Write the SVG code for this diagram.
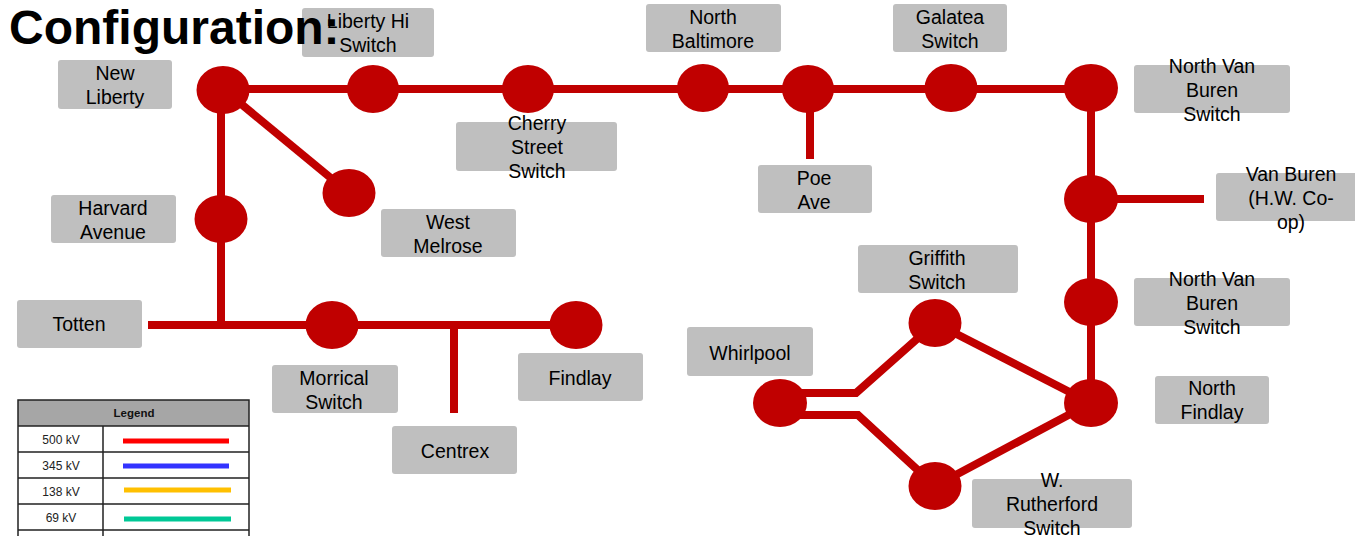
<svg xmlns="http://www.w3.org/2000/svg" width="1355" height="536" viewBox="0 0 1355 536">
<style>
.bg{fill:#fff}
.box{fill:#BFBFBF}
.lbl{font-family:"Liberation Sans",Arial,sans-serif;font-size:19.5px;fill:#000;text-anchor:middle}
.node{fill:#C00000}
.conn{fill:none;stroke:#C00000;stroke-width:8;stroke-linecap:butt;stroke-linejoin:miter}
.title{font-family:"Liberation Sans",Arial,sans-serif;font-size:48px;font-weight:bold;fill:#000}
.lg{font-family:"Liberation Sans",Arial,sans-serif;font-size:12px;fill:#222;text-anchor:middle}
.lgh{font-family:"Liberation Sans",Arial,sans-serif;font-size:11.5px;font-weight:bold;fill:#111;text-anchor:middle}
.grid{fill:none;stroke:#222;stroke-width:1.5}
.kv{stroke-width:5;fill:none}
</style>
<rect class="bg" x="0" y="0" width="1355" height="536"/>

<g id="connectors">
<path class="conn" d="M223 89 H1091"/>
<path class="conn" d="M221 89 V325"/>
<path class="conn" d="M223 89 L349 193"/>
<path class="conn" d="M148 325 H576"/>
<path class="conn" d="M454 325 V413"/>
<path class="conn" d="M810 89 V159"/>
<path class="conn" d="M1091 88 V403"/>
<path class="conn" d="M1091 199 H1204"/>
<path class="conn" d="M935 323 L1091 403"/>
<path class="conn" d="M935 486 L1091 403"/>
<path class="conn" d="M780 393 H856 L935 323"/>
<path class="conn" d="M780 415 H858 L935 486"/>
</g>

<g id="new-liberty">
<rect class="box" x="58" y="60" width="114" height="49" rx="3"/>
<text class="lbl" x="115" y="80">New</text>
<text class="lbl" x="115" y="104">Liberty</text>
<ellipse class="node" cx="223" cy="90" rx="26.5" ry="24"/>
</g>

<g id="liberty-hi-switch">
<rect class="box" x="302" y="8" width="132" height="49" rx="3"/>
<text class="lbl" x="368" y="28">Liberty Hi</text>
<text class="lbl" x="368" y="52">Switch</text>
<ellipse class="node" cx="373" cy="89" rx="26" ry="24"/>
</g>

<g id="cherry-street-switch">
<rect class="box" x="456" y="122" width="161" height="49" rx="3"/>
<ellipse class="node" cx="528" cy="89" rx="26" ry="24"/>
<text class="lbl" x="537" y="130">Cherry</text>
<text class="lbl" x="537" y="154">Street</text>
<text class="lbl" x="537" y="178">Switch</text>
</g>

<g id="north-baltimore">
<rect class="box" x="646" y="4" width="135" height="48" rx="3"/>
<text class="lbl" x="713" y="24">North</text>
<text class="lbl" x="713" y="48">Baltimore</text>
<ellipse class="node" cx="703" cy="88" rx="26" ry="24"/>
</g>

<g id="poe-ave">
<rect class="box" x="758" y="165" width="114" height="48" rx="3"/>
<text class="lbl" x="814" y="185">Poe</text>
<text class="lbl" x="814" y="209">Ave</text>
<ellipse class="node" cx="808" cy="89" rx="26" ry="24"/>
</g>

<g id="galatea-switch">
<rect class="box" x="893" y="4" width="114" height="48" rx="3"/>
<text class="lbl" x="950" y="24">Galatea</text>
<text class="lbl" x="950" y="48">Switch</text>
<ellipse class="node" cx="951" cy="88" rx="26.5" ry="24"/>
</g>

<g id="north-van-buren-switch-1">
<rect class="box" x="1134" y="65" width="156" height="48" rx="3"/>
<text class="lbl" x="1212" y="73">North Van</text>
<text class="lbl" x="1212" y="97">Buren</text>
<text class="lbl" x="1212" y="121">Switch</text>
<ellipse class="node" cx="1091" cy="88" rx="27" ry="24"/>
</g>

<g id="van-buren-hw-coop">
<rect class="box" x="1216" y="173" width="145" height="48" rx="3"/>
<text class="lbl" x="1291" y="181">Van Buren</text>
<text class="lbl" x="1291" y="205">(H.W. Co-</text>
<text class="lbl" x="1291" y="229">op)</text>
<ellipse class="node" cx="1091" cy="199" rx="27" ry="24"/>
</g>

<g id="north-van-buren-switch-2">
<rect class="box" x="1134" y="278" width="156" height="48" rx="3"/>
<text class="lbl" x="1212" y="286">North Van</text>
<text class="lbl" x="1212" y="310">Buren</text>
<text class="lbl" x="1212" y="334">Switch</text>
<ellipse class="node" cx="1091" cy="302" rx="27" ry="24"/>
</g>

<g id="north-findlay">
<rect class="box" x="1155" y="376" width="114" height="48" rx="3"/>
<text class="lbl" x="1212" y="395">North</text>
<text class="lbl" x="1212" y="419">Findlay</text>
<ellipse class="node" cx="1091" cy="403" rx="27" ry="24"/>
</g>

<g id="griffith-switch">
<rect class="box" x="858" y="245" width="160" height="48" rx="3"/>
<text class="lbl" x="937" y="265">Griffith</text>
<text class="lbl" x="937" y="289">Switch</text>
<ellipse class="node" cx="935" cy="323" rx="26.5" ry="24"/>
</g>

<g id="w-rutherford-switch">
<rect class="box" x="972" y="479" width="160" height="49" rx="3"/>
<text class="lbl" x="1052" y="487">W.</text>
<text class="lbl" x="1052" y="511">Rutherford</text>
<text class="lbl" x="1052" y="535">Switch</text>
<ellipse class="node" cx="935" cy="486" rx="26.5" ry="24"/>
</g>

<g id="whirlpool">
<rect class="box" x="687" y="327" width="126" height="49" rx="3"/>
<text class="lbl" x="750" y="360">Whirlpool</text>
<ellipse class="node" cx="780" cy="403" rx="27" ry="24"/>
</g>

<g id="west-melrose">
<rect class="box" x="381" y="209" width="135" height="48" rx="3"/>
<text class="lbl" x="448" y="229">West</text>
<text class="lbl" x="448" y="253">Melrose</text>
<ellipse class="node" cx="349" cy="193" rx="26.5" ry="24"/>
</g>

<g id="harvard-avenue">
<rect class="box" x="51" y="195" width="125" height="48" rx="3"/>
<text class="lbl" x="113" y="215">Harvard</text>
<text class="lbl" x="113" y="239">Avenue</text>
<ellipse class="node" cx="221" cy="219" rx="26.5" ry="24"/>
</g>

<g id="totten">
<rect class="box" x="17" y="300" width="125" height="48" rx="3"/>
<text class="lbl" x="79" y="331">Totten</text>
</g>

<g id="morrical-switch">
<rect class="box" x="272" y="365" width="126" height="48" rx="3"/>
<text class="lbl" x="334" y="385">Morrical</text>
<text class="lbl" x="334" y="409">Switch</text>
<ellipse class="node" cx="332" cy="325" rx="26.5" ry="24"/>
</g>

<g id="centrex">
<rect class="box" x="392" y="426" width="125" height="48" rx="3"/>
<text class="lbl" x="455" y="458">Centrex</text>
</g>

<g id="findlay">
<rect class="box" x="518" y="353" width="125" height="48" rx="3"/>
<text class="lbl" x="580" y="385">Findlay</text>
<ellipse class="node" cx="576" cy="325" rx="26.5" ry="24"/>
</g>

<text class="title" x="9" y="44">Configuration:</text>

<g id="legend">
<rect x="18" y="400" width="231" height="26" fill="#A6A6A6"/>
<rect x="18" y="426" width="231" height="112" fill="#fff"/>
<rect class="grid" x="18" y="400" width="231" height="140"/>
<path class="grid" d="M18 426 H249 M18 452 H249 M18 478 H249 M18 504 H249 M18 530 H249 M103 426 V540"/>
<text class="lgh" x="134" y="417">Legend</text>
<text class="lg" x="61" y="444">500 kV</text>
<text class="lg" x="61" y="470">345 kV</text>
<text class="lg" x="61" y="496">138 kV</text>
<text class="lg" x="61" y="522">69 kV</text>
<path class="kv" stroke="#FF0000" d="M123 441 H229"/>
<path class="kv" stroke="#3333FF" d="M123 466 H229"/>
<path class="kv" stroke="#FFC000" d="M124 490 H231"/>
<path class="kv" stroke="#00C896" d="M124 519 H231"/>
</g>
</svg>
